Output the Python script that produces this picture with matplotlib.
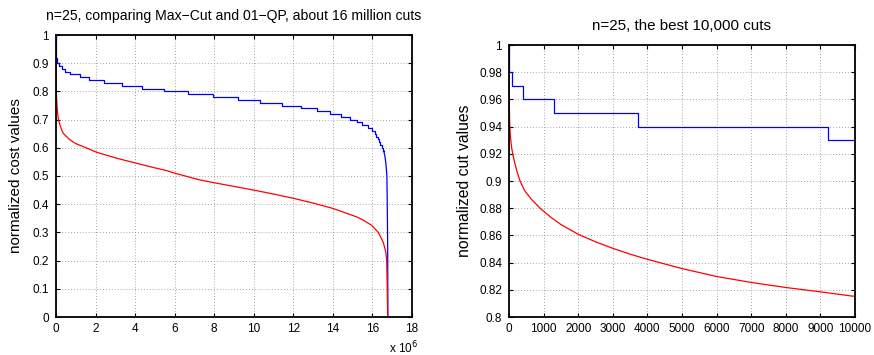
import matplotlib
matplotlib.use('Agg')
import matplotlib.pyplot as plt

plt.rcParams['font.family'] = ['Liberation Sans', 'DejaVu Sans']

# left panel: all cuts, x in units of 10^6
# Max-Cut (blue) is a staircase: level holds from break[i] to break[i+1]
left_blue_breaks = [0, 0.001, 0.002, 0.004, 0.006, 0.009, 0.013, 0.018, 0.025, 0.035,
                    0.067, 0.168, 0.287, 0.46, 0.72, 1.19, 1.69, 2.42, 3.32, 4.33,
                    5.48, 6.69, 7.95, 9.18, 10.31, 11.41, 12.39, 13.18, 13.85, 14.41,
                    14.86, 15.2, 15.49, 15.76, 15.96, 16.13, 16.2, 16.28, 16.34, 16.4,
                    16.46, 16.52, 16.57]
left_blue_levels = [1.0, 0.99, 0.98, 0.97, 0.96, 0.95, 0.94, 0.93, 0.92, 0.91,
                    0.90, 0.89, 0.88, 0.87, 0.86, 0.85, 0.84, 0.83, 0.82, 0.81,
                    0.80, 0.79, 0.78, 0.77, 0.76, 0.75, 0.74, 0.73, 0.72, 0.71,
                    0.70, 0.69, 0.68, 0.67, 0.66, 0.65, 0.64, 0.63, 0.62, 0.61,
                    0.60, 0.59]
# tail of the blue curve where it falls off
left_blue_tail_x = [16.57, 16.63, 16.68, 16.71, 16.73, 16.75, 16.77, 16.78]
left_blue_tail_y = [0.59, 0.57, 0.545, 0.52, 0.5, 0.4, 0.25, 0.0]

# 01-QP (red)
left_red_x = [0, 0.002, 0.005, 0.02, 0.06, 0.12, 0.25, 0.37, 0.71, 1.0, 1.38, 2.06, 3.07,
              3.91, 4.75, 5.6, 6.0, 7.28, 8.0, 9.0, 10.0, 11.0, 12.0, 13.0, 14.0, 14.36,
              15.2, 15.5, 15.96, 16.3, 16.55, 16.68, 16.72, 16.75, 16.77]
left_red_y = [1.0, 0.9, 0.84, 0.79, 0.74, 0.70, 0.67, 0.651, 0.628, 0.615, 0.604, 0.584, 0.563,
              0.548, 0.533, 0.519, 0.51, 0.486, 0.476, 0.463, 0.45, 0.436, 0.421, 0.404, 0.385,
              0.376, 0.355, 0.345, 0.325, 0.3, 0.264, 0.229, 0.2, 0.1, 0.0]

# right panel: the best 10,000 cuts
right_blue_breaks = [0, 4, 10, 96, 414, 1310, 3738, 9229, 10000]
right_blue_levels = [1.0, 0.99, 0.98, 0.97, 0.96, 0.95, 0.94, 0.93]

right_red_x = [0, 2, 5, 10, 20, 35, 55, 80, 115, 160, 220, 318, 450, 650, 900, 1200, 1500,
               2000, 2500, 3000, 3500, 4000, 5000, 6000, 7000, 8000, 9000, 10000]
right_red_y = [1.0, 0.985, 0.97, 0.955, 0.942, 0.935, 0.929, 0.924, 0.919, 0.914, 0.908, 0.9,
               0.893, 0.8865, 0.88, 0.8735, 0.868, 0.8608, 0.8553, 0.8505, 0.8462, 0.8424,
               0.8356, 0.8298, 0.8254, 0.8217, 0.8185, 0.8151]

left_xticks = list(range(0, 19, 2))
left_yticks = [0, 0.1, 0.2, 0.3, 0.4, 0.5, 0.6, 0.7, 0.8, 0.9, 1]
left_yticklabels = ['0', '0.1', '0.2', '0.3', '0.4', '0.5', '0.6', '0.7', '0.8', '0.9', '1']
right_xticks = list(range(0, 10001, 1000))
right_yticks = [0.8, 0.82, 0.84, 0.86, 0.88, 0.9, 0.92, 0.94, 0.96, 0.98, 1]
right_yticklabels = ['0.8', '0.82', '0.84', '0.86', '0.88', '0.9', '0.92', '0.94', '0.96', '0.98', '1']

fig = plt.figure(figsize=(8.74, 3.55), dpi=100)
ax1 = fig.add_axes([56 / 874, 38 / 355, 356 / 874, 282 / 355])
ax2 = fig.add_axes([509 / 874, 38 / 355, 346 / 874, 272 / 355])


def style(ax):
    ax.grid(True, linestyle=(0, (1, 2.5)), color='#888888', linewidth=0.6)
    ax.tick_params(direction='in', top=True, right=True, length=3, width=0.8,
                   labelsize=8.5, colors='black')
    ax.tick_params(axis='y', pad=5)
    ax.tick_params(axis='x', pad=4)
    for s in ax.spines.values():
        s.set_linewidth(1.3)


# left
ax1.step(left_blue_breaks, left_blue_levels + [left_blue_levels[-1]], where='post',
         color='blue', linewidth=0.9)
ax1.plot(left_blue_tail_x, left_blue_tail_y, color='blue', linewidth=0.9)
ax1.plot(left_red_x, left_red_y, color='red', linewidth=0.9)
ax1.set_xlim(0, 18)
ax1.set_ylim(0, 1)
ax1.set_xticks(left_xticks)
ax1.set_yticks(left_yticks)
ax1.set_yticklabels(left_yticklabels)
ax1.set_ylabel('normalized cost values', fontsize=11, labelpad=7)
ax1.set_title('n=25, comparing Max\u2212Cut and 01\u2212QP, about 16 million cuts',
              fontsize=10.1, pad=11)
style(ax1)
fig.text(404 / 874, 1 - 348 / 355, r'x 10$^{6}$', fontsize=8.5, ha='center', va='center')

# right
ax2.step(right_blue_breaks, right_blue_levels + [right_blue_levels[-1]], where='post',
         color='blue', linewidth=0.9)
ax2.plot(right_red_x, right_red_y, color='red', linewidth=0.9)
ax2.set_xlim(0, 10000)
ax2.set_ylim(0.8, 1)
ax2.set_xticks(right_xticks)
ax2.set_yticks(right_yticks)
ax2.set_yticklabels(right_yticklabels)
ax2.set_ylabel('normalized cut values', fontsize=11.3, labelpad=5)
ax2.set_title('n=25, the best 10,000 cuts', fontsize=10.9, pad=11)
style(ax2)

fig.savefig('out.png', dpi=100)
